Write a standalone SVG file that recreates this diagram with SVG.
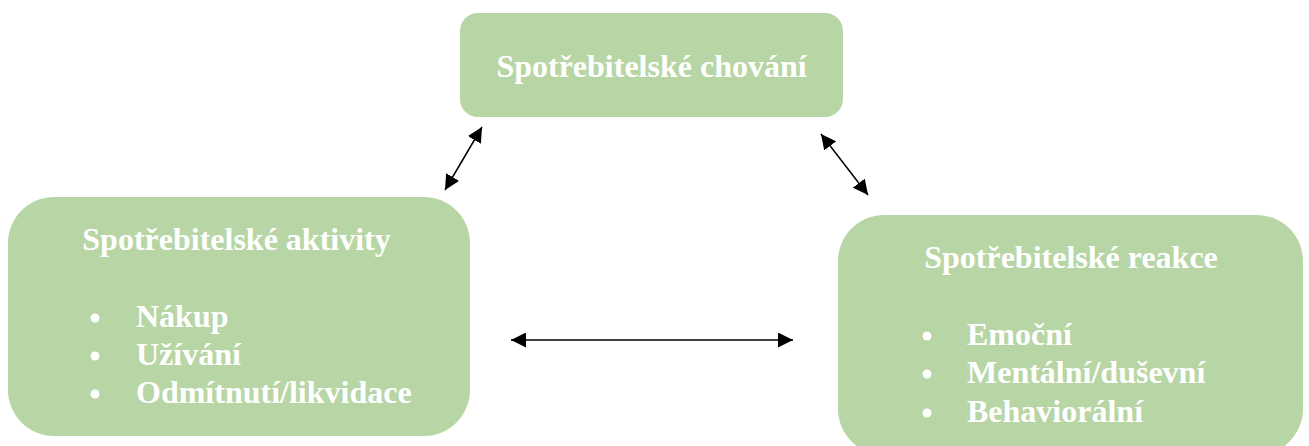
<svg xmlns="http://www.w3.org/2000/svg" width="1309" height="446" viewBox="0 0 1309 446">
<style>
.box{fill:#b8d6a5}
.t{font-family:"Liberation Serif","Times New Roman",serif;font-weight:bold;font-size:32px;fill:#ffffff}
.dot{fill:#ffffff}
</style>
<defs>
<marker id="ah2" viewBox="0 0 10 10" refX="10" refY="5" markerWidth="15" markerHeight="15" markerUnits="userSpaceOnUse" orient="auto-start-reverse">
<path d="M0,0 L10,5 L0,10 z" fill="#000"/>
</marker>
</defs>
<g id="node-chovani">
<rect class="box" x="460" y="13" width="383" height="104" rx="18"/>
<text class="t" x="651.5" y="77" text-anchor="middle">Spotřebitelské chování</text>
</g>
<g id="node-aktivity">
<rect class="box" x="8" y="197" width="462" height="239" rx="46"/>
<text class="t" x="236.5" y="250" text-anchor="middle">Spotřebitelské aktivity</text>
<circle class="dot" cx="95" cy="318" r="4.5"/>
<text class="t" x="136" y="327">Nákup</text>
<circle class="dot" cx="95" cy="356" r="4.5"/>
<text class="t" x="136" y="365">Užívání</text>
<circle class="dot" cx="95" cy="394" r="4.5"/>
<text class="t" x="136" y="403">Odmítnutí/likvidace</text>
</g>
<g id="node-reakce">
<rect class="box" x="838" y="215" width="465" height="240" rx="46"/>
<text class="t" x="1071" y="268" text-anchor="middle">Spotřebitelské reakce</text>
<circle class="dot" cx="927" cy="336" r="4.5"/>
<text class="t" x="967" y="345">Emoční</text>
<circle class="dot" cx="927" cy="374" r="4.5"/>
<text class="t" x="967" y="383">Mentální/duševní</text>
<circle class="dot" cx="927" cy="413" r="4.5"/>
<text class="t" x="967" y="422">Behaviorální</text>
</g>
<g id="connectors" stroke="#000" stroke-width="1.5" fill="none">
<line x1="482" y1="127" x2="445" y2="190" marker-start="url(#ah2)" marker-end="url(#ah2)"/>
<line x1="821" y1="134" x2="868" y2="195" marker-start="url(#ah2)" marker-end="url(#ah2)"/>
<line x1="511" y1="340" x2="793" y2="340" marker-start="url(#ah2)" marker-end="url(#ah2)"/>
</g>
</svg>
